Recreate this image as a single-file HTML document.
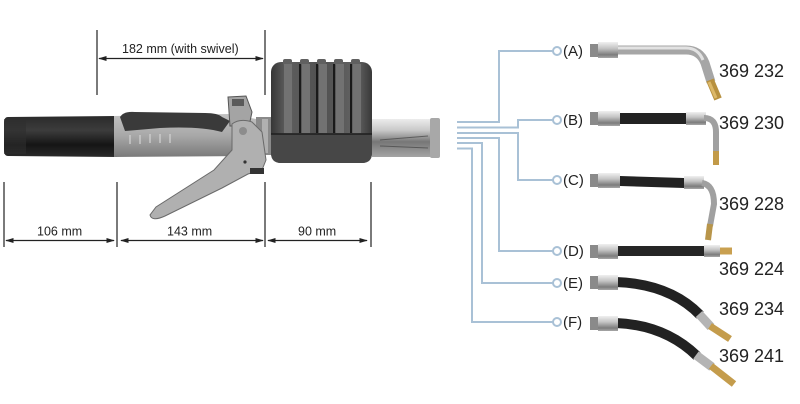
<!DOCTYPE html>
<html>
<head>
<meta charset="utf-8">
<style>
html,body{margin:0;padding:0;background:#fff;}
body{width:800px;height:404px;overflow:hidden;}
svg{display:block;}
text{font-family:"Liberation Sans",sans-serif;fill:#222;}
</style>
</head>
<body>
<svg width="800" height="404" viewBox="0 0 800 404" xmlns="http://www.w3.org/2000/svg">
<defs>
  <linearGradient id="blk" x1="0" y1="0" x2="0" y2="1">
    <stop offset="0" stop-color="#2a2a2a"/>
    <stop offset="0.35" stop-color="#3c3c3c"/>
    <stop offset="0.7" stop-color="#151515"/>
    <stop offset="1" stop-color="#2a2a2a"/>
  </linearGradient>
  <linearGradient id="gry" x1="0" y1="0" x2="0" y2="1">
    <stop offset="0" stop-color="#c2c2c2"/>
    <stop offset="0.5" stop-color="#a8a8a8"/>
    <stop offset="1" stop-color="#7a7a7a"/>
  </linearGradient>
  <linearGradient id="slv" x1="0" y1="0" x2="0" y2="1">
    <stop offset="0" stop-color="#ececec"/>
    <stop offset="0.3" stop-color="#c8c8c8"/>
    <stop offset="0.6" stop-color="#777"/>
    <stop offset="1" stop-color="#a5a5a5"/>
  </linearGradient>
  <linearGradient id="box" x1="0" y1="0" x2="1" y2="0">
    <stop offset="0" stop-color="#363636"/>
    <stop offset="0.15" stop-color="#5e5e5e"/>
    <stop offset="0.5" stop-color="#505050"/>
    <stop offset="0.85" stop-color="#636363"/>
    <stop offset="1" stop-color="#383838"/>
  </linearGradient>
  <linearGradient id="fit" x1="0" y1="0" x2="0" y2="1">
    <stop offset="0" stop-color="#f0f0f0"/>
    <stop offset="0.4" stop-color="#c4c4c4"/>
    <stop offset="0.8" stop-color="#7c7c7c"/>
    <stop offset="1" stop-color="#a8a8a8"/>
  </linearGradient>
  <marker id="ah" viewBox="0 0 10 6" refX="9" refY="3" markerWidth="9" markerHeight="5" markerUnits="userSpaceOnUse" orient="auto-start-reverse">
    <path d="M0,0 L10,3 L0,6 Z" fill="#222"/>
  </marker>
</defs>

<!-- ===== Dimension lines ===== -->
<g stroke="#333" stroke-width="1.3">
  <line x1="97" y1="30" x2="97" y2="95"/>
  <line x1="265" y1="30" x2="265" y2="95"/>
  <line x1="4" y1="182" x2="4" y2="247"/>
  <line x1="117" y1="182" x2="117" y2="247"/>
  <line x1="265" y1="182" x2="265" y2="247"/>
  <line x1="371" y1="182" x2="371" y2="247"/>
</g>
<g stroke="#222" stroke-width="1.3" fill="none">
  <line x1="99" y1="58.5" x2="263" y2="58.5" marker-start="url(#ah)" marker-end="url(#ah)"/>
  <line x1="6" y1="240.5" x2="114" y2="240.5" marker-start="url(#ah)" marker-end="url(#ah)"/>
  <line x1="121" y1="240.5" x2="263" y2="240.5" marker-start="url(#ah)" marker-end="url(#ah)"/>
  <line x1="268" y1="240.5" x2="367" y2="240.5" marker-start="url(#ah)" marker-end="url(#ah)"/>
</g>
<g font-size="12.5">
  <text x="122" y="53">182 mm (with swivel)</text>
  <text x="37" y="235.5">106 mm</text>
  <text x="167" y="235.5">143 mm</text>
  <text x="298" y="235.5">90 mm</text>
</g>

<!-- ===== Gun ===== -->
<path d="M8,117 L117,116 L117,157 L8,156 Q4,156 4,150 L4,123 Q4,117 8,117 Z" fill="url(#blk)"/>
<rect x="4" y="119" width="22" height="35" fill="#2e2e2e" opacity="0.6"/>
<path d="M114,116 L228,114 L262,120 L264,156 L114,157 Z" fill="url(#gry)"/>
<path d="M120,117 Q124,111 135,112 L205,113 Q218,113 222,117 L230,121 L222,132 Q200,126 160,128 L125,131 Z" fill="#3a3a3a"/>
<g stroke="#d4d4d4" stroke-width="1.5" opacity="0.8">
  <line x1="130" y1="135" x2="130" y2="144"/>
  <line x1="140" y1="135" x2="140" y2="144"/>
  <line x1="150" y1="134" x2="150" y2="143"/>
  <line x1="160" y1="134" x2="160" y2="143"/>
  <line x1="170" y1="134" x2="170" y2="143"/>
</g>
<rect x="256" y="117" width="18" height="38" fill="#8a8a8a"/>
<rect x="262" y="119" width="6" height="34" fill="#b0b0b0"/>
<path d="M228,97 L246,96 L252,112 L249,126 L230,126 Z" fill="#a4a4a4" stroke="#555" stroke-width="1"/>
<rect x="232" y="99" width="12" height="7" fill="#5a5a5a"/>
<path d="M232,124 Q240,118 252,122 L262,132 L266,160 L262,170 L248,174 L222,188 L165,216 Q152,222 150,215 L156,207 L214,170 L232,150 Z" fill="#b0b0b0" stroke="#6a6a6a" stroke-width="1"/>
<circle cx="243" cy="131" r="4" fill="#8c8c8c"/>
<circle cx="245" cy="162" r="1.6" fill="#333"/>
<rect x="250" y="168" width="14" height="6" fill="#333"/>

<!-- meter box -->
<rect x="271" y="62" width="101" height="101" rx="10" fill="url(#box)"/>
<g fill="#606060">
  <rect x="283" y="59" width="9" height="6" rx="2"/>
  <rect x="300" y="59" width="9" height="6" rx="2"/>
  <rect x="317" y="59" width="9" height="6" rx="2"/>
  <rect x="334" y="59" width="9" height="6" rx="2"/>
  <rect x="351" y="59" width="9" height="6" rx="2"/>
</g>
<g fill="#727272">
  <rect x="284" y="64" width="8" height="69"/>
  <rect x="302" y="64" width="8" height="69"/>
  <rect x="319" y="64" width="8" height="69"/>
  <rect x="336" y="64" width="8" height="69"/>
  <rect x="353" y="64" width="8" height="69"/>
</g>
<g fill="#1a1a1a">
  <rect x="299" y="64" width="2" height="69"/>
  <rect x="316" y="64" width="2" height="69"/>
  <rect x="333" y="64" width="2" height="69"/>
  <rect x="350" y="64" width="2" height="69"/>
</g>
<path d="M271,134 L372,134 L372,153 Q372,163 362,163 L281,163 Q271,163 271,153 Z" fill="#474747"/>
<line x1="271" y1="134" x2="372" y2="134" stroke="#1e1e1e" stroke-width="1.5"/>

<!-- nozzle -->
<rect x="372" y="119" width="62" height="38" fill="url(#slv)"/>
<rect x="430" y="118" width="10" height="40" rx="2" fill="#a8a8a8"/>
<g stroke="#444" stroke-width="1" opacity="0.7">
  <line x1="380" y1="140" x2="428" y2="136"/>
  <line x1="380" y1="146" x2="428" y2="148"/>
</g>

<!-- ===== Connectors ===== -->
<g stroke="#a9c1d6" stroke-width="2" fill="none">
  <polyline points="457,122 499,122 499,51 553,51"/>
  <polyline points="457,127.5 518,127.5 518,120 553,120"/>
  <polyline points="457,133 518,133 518,180 553,180"/>
  <polyline points="457,138 499,138 499,251 553,251"/>
  <polyline points="457,143 482,143 482,283 553,283"/>
  <polyline points="457,148.5 472,148.5 472,322 553,322"/>
  <g fill="#fff">
    <circle cx="557" cy="51" r="4"/>
    <circle cx="557" cy="120" r="4"/>
    <circle cx="557" cy="180" r="4"/>
    <circle cx="557" cy="251" r="4"/>
    <circle cx="557" cy="283" r="4"/>
    <circle cx="557" cy="322" r="4"/>
  </g>
</g>
<g font-size="15">
  <text x="563" y="56">(A)</text>
  <text x="563" y="125">(B)</text>
  <text x="563" y="185">(C)</text>
  <text x="563" y="256">(D)</text>
  <text x="563" y="288">(E)</text>
  <text x="563" y="327">(F)</text>
</g>
<g font-size="18" fill="#2a2a2a">
  <text x="719" y="77">369 232</text>
  <text x="719" y="129">369 230</text>
  <text x="719" y="210">369 228</text>
  <text x="719" y="275">369 224</text>
  <text x="719" y="315">369 234</text>
  <text x="719" y="362">369 241</text>
</g>

<!-- ===== Hoses ===== -->
<!-- A -->
<path d="M616,50 L686,50 Q700,50 705,63 L711,82" stroke="#a6a6a6" stroke-width="9" fill="none"/>
<path d="M616,48 L686,48 Q698,48 703,60" stroke="#e2e2e2" stroke-width="3" fill="none"/>
<line x1="710" y1="80" x2="718" y2="99" stroke="#b8913f" stroke-width="8"/>
<line x1="709" y1="82" x2="716" y2="98" stroke="#dcb868" stroke-width="3"/>
<rect x="590" y="44" width="9" height="13" fill="#8a8a8a"/>
<rect x="598" y="42" width="20" height="16" fill="url(#fit)"/>

<!-- B -->
<rect x="620" y="113" width="66" height="11" fill="#222"/>
<rect x="686" y="112" width="20" height="13" fill="url(#fit)"/>
<path d="M704,118 Q716,118 716,132 L716,152" stroke="#a0a0a0" stroke-width="6" fill="none"/>
<line x1="716" y1="151" x2="716" y2="165" stroke="#c29a48" stroke-width="6"/>
<rect x="590" y="112" width="9" height="13" fill="#8a8a8a"/>
<rect x="598" y="111" width="22" height="15" fill="url(#fit)"/>

<!-- C -->
<path d="M620,176 L684,178 L684,188 L620,186 Z" fill="#222"/>
<rect x="684" y="176" width="20" height="13" fill="url(#fit)"/>
<path d="M702,183 Q714,185 714,204 L710,226" stroke="#a0a0a0" stroke-width="6" fill="none"/>
<line x1="710" y1="224" x2="708" y2="240" stroke="#b8954a" stroke-width="6"/>
<rect x="590" y="174" width="9" height="13" fill="#8a8a8a"/>
<rect x="598" y="173" width="22" height="15" fill="url(#fit)"/>

<!-- D -->
<rect x="618" y="246" width="88" height="10" fill="#262626"/>
<rect x="704" y="245" width="16" height="12" fill="url(#fit)"/>
<rect x="720" y="247.5" width="12" height="7" fill="#c9a050"/>
<rect x="590" y="245" width="9" height="13" fill="#8a8a8a"/>
<rect x="598" y="244" width="20" height="15" fill="url(#fit)"/>

<!-- E -->
<path d="M616,282 Q670,284 700,315" stroke="#222" stroke-width="10" fill="none"/>
<line x1="699" y1="314" x2="711" y2="327" stroke="#b4b4b4" stroke-width="9"/>
<line x1="710" y1="326" x2="730" y2="339" stroke="#c49c4c" stroke-width="7"/>
<rect x="590" y="276" width="9" height="13" fill="#8a8a8a"/>
<rect x="598" y="275" width="20" height="15" fill="url(#fit)"/>

<!-- F -->
<path d="M616,323 Q665,325 697,356" stroke="#222" stroke-width="10" fill="none"/>
<line x1="696" y1="355" x2="712" y2="367" stroke="#b4b4b4" stroke-width="9"/>
<line x1="711" y1="366" x2="734" y2="384" stroke="#c49c4c" stroke-width="7"/>
<rect x="590" y="317" width="9" height="13" fill="#8a8a8a"/>
<rect x="598" y="316" width="20" height="15" fill="url(#fit)"/>
</svg>
</body>
</html>
